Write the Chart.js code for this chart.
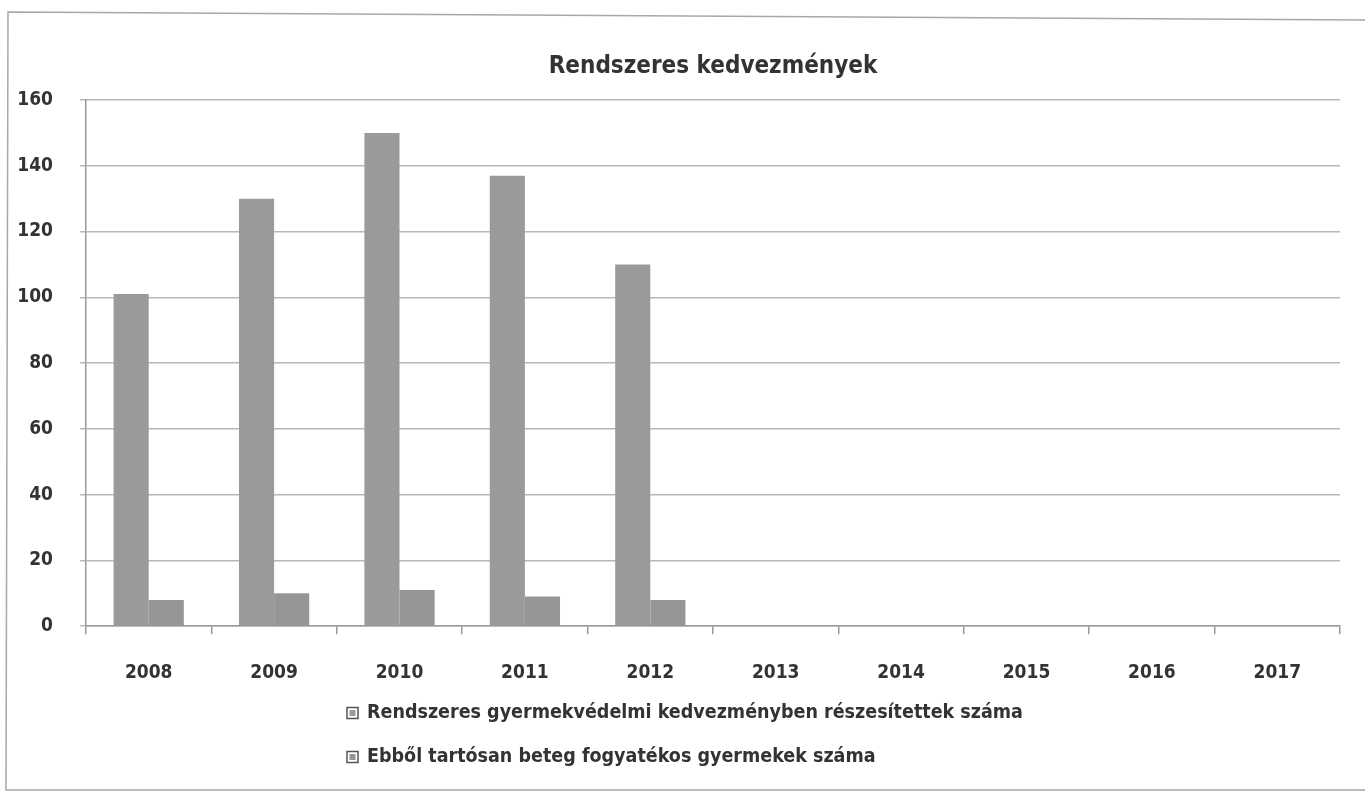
<!DOCTYPE html>
<html>
<head>
<meta charset="utf-8">
<script src="https://cdn.jsdelivr.net/npm/chart.js@4/dist/chart.umd.min.js"></script>
<style>
  html, body { margin: 0; padding: 0; background: #ffffff; }
  #wrap { position: absolute; left: 0; top: 0; width: 1365px; height: 793px; }
</style>
</head>
<body>
<div id="wrap"><canvas id="c" width="1365" height="793"></canvas></div>
<script>
const titleText = 'Rendszeres kedvezmények';
const categories = ['2008', '2009', '2010', '2011', '2012', '2013', '2014', '2015', '2016', '2017'];
const seriesNames = [
  'Rendszeres gyermekvédelmi kedvezményben részesítettek száma',
  'Ebből tartósan beteg fogyatékos gyermekek száma'
];
const totalValues = [101, 130, 150, 137, 110, null, null, null, null, null];
const disabledValues = [8, 10, 11, 9, 8, null, null, null, null, null];
const yTicks = [0, 20, 40, 60, 80, 100, 120, 140, 160];

const FONT = "'Liberation Sans Narrow', 'DejaVu Sans Condensed', 'Arial Narrow', sans-serif";
const TEXT = '#333333';

const frame = {
  id: 'frame',
  beforeDraw(chart) {
    const ctx = chart.ctx;
    ctx.save();
    ctx.fillStyle = '#ffffff';
    ctx.fillRect(0, 0, chart.width, chart.height);
    ctx.strokeStyle = '#a8a8a8';
    ctx.lineWidth = 1.5;
    ctx.beginPath();
    ctx.moveTo(1365, 20);
    ctx.lineTo(8, 12);
    ctx.lineTo(6, 790);
    ctx.lineTo(1365, 790);
    ctx.stroke();
    ctx.restore();
  }
};

const customTitleLegend = {
  id: 'customTitleLegend',
  afterDraw(chart) {
    const ctx = chart.ctx;
    const area = chart.chartArea;
    ctx.save();
    ctx.fillStyle = TEXT;
    ctx.font = 'bold 24px ' + FONT;
    ctx.textBaseline = 'middle';
    ctx.textAlign = 'center';
    ctx.fillText(titleText, (area.left + area.right) / 2, 67);

    ctx.font = 'bold 19.5px ' + FONT;
    ctx.textAlign = 'left';
    const rows = [713, 757];
    chart.data.datasets.forEach((ds, i) => {
      const y = rows[i];
      const x = 347;
      ctx.strokeStyle = '#555555';
      ctx.lineWidth = 1.5;
      ctx.fillStyle = '#ffffff';
      ctx.fillRect(x, y - 5.5, 11, 11);
      ctx.strokeRect(x, y - 5.5, 11, 11);
      ctx.fillStyle = ds.backgroundColor;
      ctx.fillRect(x + 2.5, y - 3, 6, 6);
      ctx.fillStyle = TEXT;
      ctx.fillText(ds.label, x + 20, y);
    });
    ctx.restore();
  }
};

new Chart(document.getElementById('c'), {
  type: 'bar',
  data: {
    labels: categories,
    datasets: [
      { label: seriesNames[0], data: totalValues, backgroundColor: '#9a9a9a', borderWidth: 0 },
      { label: seriesNames[1], data: disabledValues, backgroundColor: '#969696', borderWidth: 0 }
    ]
  },
  options: {
    responsive: false,
    animation: false,
    devicePixelRatio: 1,
    layout: { padding: { top: 100, left: 12, right: 25, bottom: 82 } },
    datasets: { bar: { categoryPercentage: 0.56, barPercentage: 1.0 } },
    plugins: {
      legend: { display: false },
      tooltip: { enabled: false },
      title: { display: false }
    },
    scales: {
      x: {
        grid: { display: true, drawOnChartArea: false, drawTicks: true, tickLength: 8, color: '#9a9a9a', lineWidth: 1.5, offset: true },
        border: { display: true, color: '#9a9a9a', width: 1.5 },
        ticks: { color: TEXT, padding: 27, font: { family: FONT, size: 19, weight: 'bold' } }
      },
      y: {
        min: 0,
        max: 160,
        afterBuildTicks(scale) { scale.ticks = yTicks.map(v => ({ value: v })); },
        afterFit(scale) { scale.width = 74; },
        grid: { color: '#b8b8b8', lineWidth: 1.5, drawTicks: true, tickLength: 6 },
        border: { display: true, color: '#9a9a9a', width: 1.5 },
        ticks: { color: TEXT, padding: 27, font: { family: FONT, size: 19, weight: 'bold' } }
      }
    }
  },
  plugins: [frame, customTitleLegend]
});
</script>
</body>
</html>
